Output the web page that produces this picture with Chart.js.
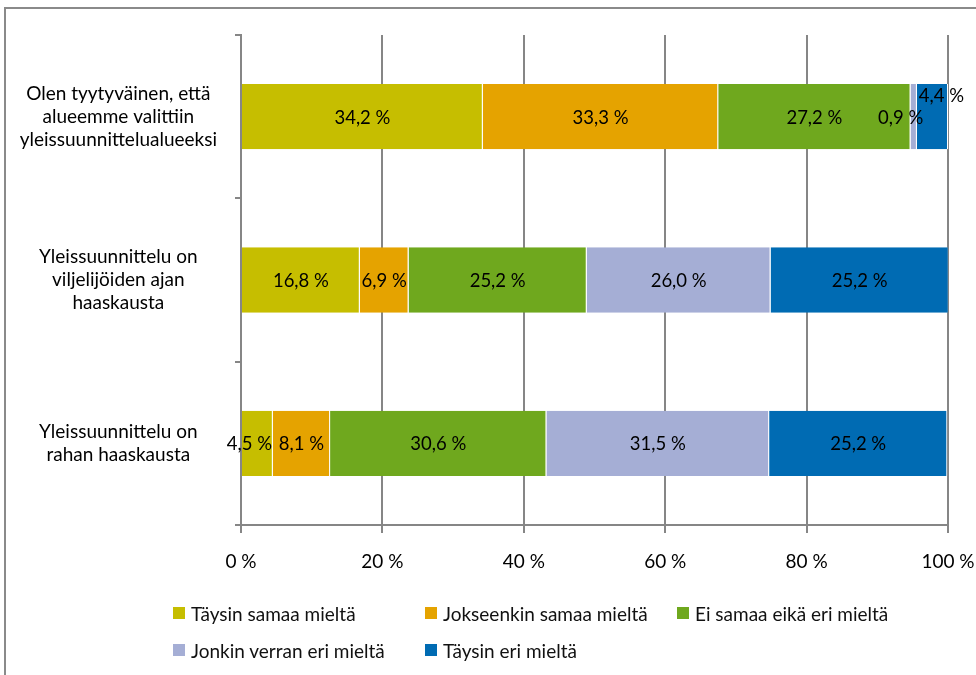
<!doctype html>
<html>
<head>
    <meta charset="UTF-8">
    <title>Yleissuunnittelu</title>
    <script src="https://cdn.jsdelivr.net/npm/chart.js@4/dist/chart.umd.min.js"></script>
    <style>
        html, body { margin: 0; padding: 0; background: #fff; overflow: hidden; }
        #wrap { position: relative; width: 976px; height: 675px; }
        #frame {
            position: absolute; left: 4px; top: 7px; width: 1000px; height: 700px;
            border: 2px solid #8a8a8a; box-sizing: border-box;
        }
        canvas { position: absolute; left: 0; top: 0; }
        .leg { position: absolute; font-family: Lato, "Open Sans", sans-serif; font-size: 19px; color: #111; white-space: nowrap; }
        .leg i { position: absolute; left: -18px; top: 5px; width: 12px; height: 12px; }
    </style>
</head>
<body>
<div id="wrap">
    <div id="frame"></div>
    <canvas id="chart-area" width="976" height="675"></canvas>
    <div id="legend"></div>
</div>
<script>
    // kysymykset (rivit ylhäältä alas)
    var categories = [
        ['Olen tyytyväinen, että', 'alueemme valittiin', 'yleissuunnittelualueeksi'],
        ['Yleissuunnittelu on', 'viljelijöiden ajan', 'haaskausta'],
        ['Yleissuunnittelu on', 'rahan haaskausta']
    ];
    var seriesNames = ['Täysin samaa mieltä', 'Jokseenkin samaa mieltä', 'Ei samaa eikä eri mieltä',
        'Jonkin verran eri mieltä', 'Täysin eri mieltä'];
    var seriesColors = ['#c6be00', '#e5a300', '#6fa81e', '#a5aed5', '#006bb3'];

    var taysinSamaa = [34.2, 16.8, 4.5];
    var jokseenkinSamaa = [33.3, 6.9, 8.1];
    var eiSamaaEikaEri = [27.2, 25.2, 30.6];
    var jonkinVerranEri = [0.9, 26.0, 31.5];
    var taysinEri = [4.4, 25.2, 25.2];
    var xTicks = [0, 20, 40, 60, 80, 100];

    var seriesValues = [taysinSamaa, jokseenkinSamaa, eiSamaaEikaEri, jonkinVerranEri, taysinEri];
    var FONT = 'Lato, "Open Sans", sans-serif';
    var GRID = '#868686';

    function fmt(v) {
        return v.toFixed(1).replace('.', ',') + ' %';
    }

    // käsin siirretyt arvot (kuten alkuperäisessä)
    var labelShift = { '3_0': [-13, 0], '4_0': [9, -22], '0_2': [-8, 0] };

    var barLabels = {
        id: 'barLabels',
        afterDatasetsDraw: function (chart) {
            var ctx = chart.ctx;
            ctx.save();
            ctx.font = '18.5px ' + FONT;
            ctx.fillStyle = '#000';
            ctx.textAlign = 'center';
            ctx.textBaseline = 'middle';
            chart.data.datasets.forEach(function (ds, di) {
                chart.getDatasetMeta(di).data.forEach(function (bar, i) {
                    var p = bar.getCenterPoint();
                    var s = labelShift[di + '_' + i] || [0, 0];
                    ctx.fillText(fmt(ds.data[i]), p.x + s[0], p.y + 1 + s[1]);
                });
            });
            ctx.restore();
        }
    };

    var config = {
        type: 'bar',
        data: {
            labels: categories,
            datasets: seriesNames.map(function (name, k) {
                return {
                    label: name,
                    data: seriesValues[k],
                    backgroundColor: seriesColors[k],
                    borderColor: '#ffffff',
                    borderWidth: { left: 0, right: 1, top: 0, bottom: 0 },
                    borderSkipped: false,
                    barPercentage: 0.4,
                    categoryPercentage: 1
                };
            })
        },
        options: {
            indexAxis: 'y',
            responsive: false,
            animation: false,
            layout: { padding: { top: 35, right: 28, left: 0, bottom: 0 } },
            plugins: {
                legend: { display: false },
                tooltip: { enabled: false }
            },
            scales: {
                x: {
                    stacked: true,
                    min: 0,
                    max: 100,
                    afterBuildTicks: function (s) { s.ticks = xTicks.map(function (v) { return { value: v }; }); },
                    afterFit: function (s) { s.height = 150; s.paddingLeft = 0; s.paddingRight = 0; },
                    grid: { color: GRID, lineWidth: 2, tickLength: 8, tickColor: GRID },
                    border: { display: true, color: GRID, width: 2 },
                    ticks: {
                        padding: 17,
                        color: '#000',
                        font: { family: FONT, size: 19 },
                        callback: function (v) { return v + ' %'; }
                    }
                },
                y: {
                    stacked: true,
                    afterFit: function (s) { s.width = 241; s.paddingTop = 0; s.paddingBottom = 0; },
                    grid: { drawOnChartArea: false, offset: true, tickLength: 6, color: GRID, lineWidth: 2 },
                    border: { display: true, color: GRID, width: 2 },
                    ticks: {
                        crossAlign: 'center',
                        padding: 18,
                        color: '#000',
                        font: { family: FONT, size: 19, lineHeight: 1.21 }
                    }
                }
            }
        },
        plugins: [barLabels]
    };

    var ctx = document.getElementById('chart-area').getContext('2d');
    window.myBar = new Chart(ctx, config);

    // selite: kaksi riviä kuten alkuperäisessä
    var legPos = [[191, 602], [443, 602], [695, 602], [191, 639], [443, 639]];
    var leg = document.getElementById('legend');
    seriesNames.forEach(function (name, k) {
        var d = document.createElement('div');
        d.className = 'leg';
        d.style.left = legPos[k][0] + 'px';
        d.style.top = legPos[k][1] + 'px';
        d.innerHTML = '<i style="background:' + seriesColors[k] + '"></i>' + name;
        leg.appendChild(d);
    });
</script>
</body>
</html>
